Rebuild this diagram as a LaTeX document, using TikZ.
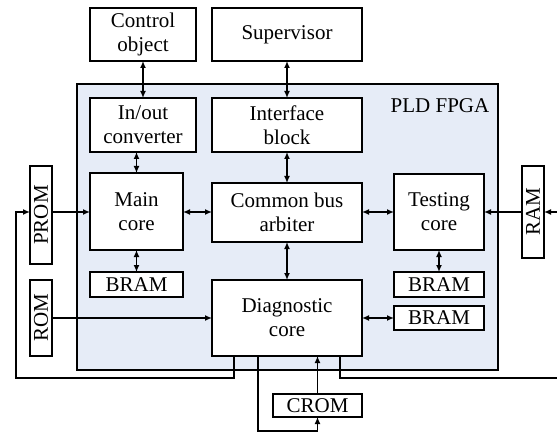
\documentclass[tikz,border=0pt]{standalone}
\usepackage{fontspec}
\setmainfont{Liberation Serif}
\usetikzlibrary{arrows.meta,calc}
\definecolor{fpgafill}{HTML}{E6ECF7}
\begin{document}
\begin{tikzpicture}[x=1pt,y=-1pt,
  box/.style={draw,line width=1.8pt,fill=white,inner sep=0pt,outer sep=0pt,align=center,
    font=\fontsize{21}{24}\selectfont},
  ar/.style={line width=1.6pt,-{Latex[length=7pt,width=6pt]}},
  dar/.style={line width=1.6pt,{Latex[length=7pt,width=6pt]}-{Latex[length=7pt,width=6pt]}},
  ln/.style={line width=1.6pt}]
\useasboundingbox (0,0) rectangle (557,433);
\node[draw,line width=1.8pt,fill=fpgafill,inner sep=0pt,outer sep=0pt,anchor=north west,
  minimum width=421pt,minimum height=286pt] (fpga) at (77,84) {};
\node[font=\fontsize{21}{24}\selectfont] (fpgalbl) at (440,106) {PLD FPGA};
\node[box,minimum width=106pt,minimum height=53pt] (ctrl) at (143,34.5) {Control\\object};
\node[box,minimum width=150pt,minimum height=53pt] (sup) at (287,34.5) {Supervisor};
\node[box,minimum width=106pt,minimum height=54pt] (io) at (143,125) {In/out\\converter};
\node[box,minimum width=150pt,minimum height=54pt] (intf) at (287,125) {Interface\\block};
\node[box,minimum width=93pt,minimum height=77pt] (main) at (136.5,211.5) {Main\\core};
\node[box,minimum width=150pt,minimum height=59pt] (arb) at (287,212.5) {Common bus\\arbiter};
\node[box,minimum width=90pt,minimum height=76pt] (test) at (439,212) {Testing\\core};
\node[box,minimum width=93pt,minimum height=25pt] (bram1) at (136.5,284.5) {BRAM};
\node[box,minimum width=150pt,minimum height=76pt] (diag) at (287,318) {Diagnostic\\core};
\node[box,minimum width=90pt,minimum height=25pt] (bram2) at (439,284.5) {BRAM};
\node[box,minimum width=90pt,minimum height=24pt] (bram3) at (439,318) {BRAM};
\node[box,minimum width=22pt,minimum height=98pt] (prom) at (41,215) {\rotatebox{90}{PROM}};
\node[box,minimum width=22pt,minimum height=76pt] (rom) at (41,318) {\rotatebox{90}{ROM}};
\node[box,minimum width=22pt,minimum height=92pt] (ram) at (533,212) {\rotatebox{90}{RAM}};
\node[box,minimum width=89pt,minimum height=23pt] (crom) at (317.5,405.5) {CROM};
% vertical links
\draw[dar] (ctrl.south) -- (io.north);
\draw[dar] (sup.south) -- (intf.north);
\draw[dar] (main.north) -- (main.north |- io.south);
\draw[dar] (intf.south) -- (arb.north);
\draw[dar] (main.south) -- (bram1.north);
\draw[dar] (arb.south) -- (diag.north);
\draw[dar] (test.south) -- (bram2.north);
% horizontal links
\draw[dar] (main.east |- 0,212) -- (arb.west |- 0,212);
\draw[dar] (arb.east |- 0,212) -- (test.west);
\draw[dar] (diag.east) -- (bram3.west);
\draw[ar] (prom.east |- 0,212) -- (main.west |- 0,212);
\draw[ar] (rom.east) -- (diag.west);
\draw[ar] (ram.west) -- (test.east);
% feedback lines
\coordinate (edgeA) at (557,378);
\coordinate (edgeB) at (557,212);
\draw[ar] ([xshift=22pt]diag.south west) |- (16,378) |- (prom.west |- 0,212);
\draw[ln] ([xshift=-22pt]diag.south east) |- (edgeA);
\draw[ar] (edgeB) -- (ram.east);
\draw[ar] ([xshift=46pt]diag.south west) |- (crom.south |- 0,431) -- (crom.south);
\draw[ar] (crom.north) -- (crom.north |- diag.south);
\end{tikzpicture}
\end{document}
